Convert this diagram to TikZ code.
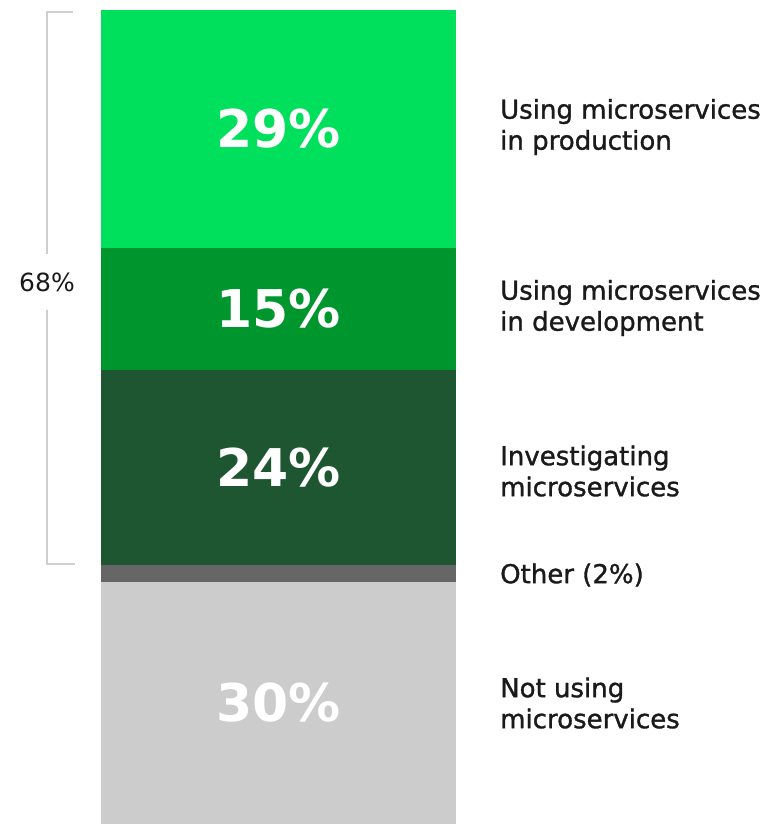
\documentclass[tikz,border=0pt]{standalone}
\usepackage{fontspec}
\setmainfont{DejaVu Sans}
\newfontfamily\labelfont[RawFeature={embolden=1.2}]{DejaVu Sans}
\usepackage{tikz}
\usetikzlibrary{positioning,calc}
\definecolor{prodgreen}{HTML}{00E05C}
\definecolor{devgreen}{HTML}{00962E}
\definecolor{invgreen}{HTML}{1F5632}
\definecolor{othergray}{HTML}{666666}
\definecolor{nonegray}{HTML}{CCCCCC}
\definecolor{bracketgray}{HTML}{CFCFCF}
\definecolor{labelink}{HTML}{1A1A1A}

\begin{document}
\begin{tikzpicture}[x=1pt,y=-1pt,
    seg/.style={rectangle, inner sep=0pt, minimum width=355pt, text=white,
        font=\bfseries\fontsize{52}{60}\selectfont},
    lbl/.style={anchor=west, align=left, inner sep=0pt, text=labelink,
        font=\labelfont\fontsize{26}{31}\selectfont}]
            \useasboundingbox (0,0) rectangle (782,824);
            \node[seg, fill=prodgreen, minimum height=238pt] (Prod) at (278.5,129) {29\%};
            \node[seg, fill=devgreen, minimum height=122pt] (Dev) at (278.5,309) {15\%};
            \node[seg, fill=invgreen, minimum height=195pt] (Inv) at (278.5,467.5) {24\%};
            \node[seg, fill=othergray, minimum height=17pt] (Other) at (278.5,573.5) {};
            \node[seg, fill=nonegray, minimum height=242pt] (None) at (278.5,703) {30\%};
            \node[lbl] (ProdL) at (500,127) {Using microservices\\in production};
            \node[lbl] (DevL) at (500,308) {Using microservices\\in development};
            \node[lbl] (InvL) at (500,471) {Investigating\\microservices};
            \node[lbl] (OtherL) at (500,575) {Other (2\%)};
            \node[lbl] (NoneL) at (500,703) {Not using\\microservices};
            \node[text=labelink, font=\fontsize{25}{28}\selectfont, inner xsep=0pt, inner ysep=18pt] (Total) at (47,282) {68\%};
            \coordinate (BrTop) at (47,12);
            \coordinate (BrBot) at (47,564);
            \draw[bracketgray, line width=2pt] (BrTop -| Prod.west) ++(-28,0) -- (BrTop) -- (Total.north);
            \draw[bracketgray, line width=2pt] (Total.south) -- (BrBot) -- ++(28,0);
        \end{tikzpicture}
\end{document}
